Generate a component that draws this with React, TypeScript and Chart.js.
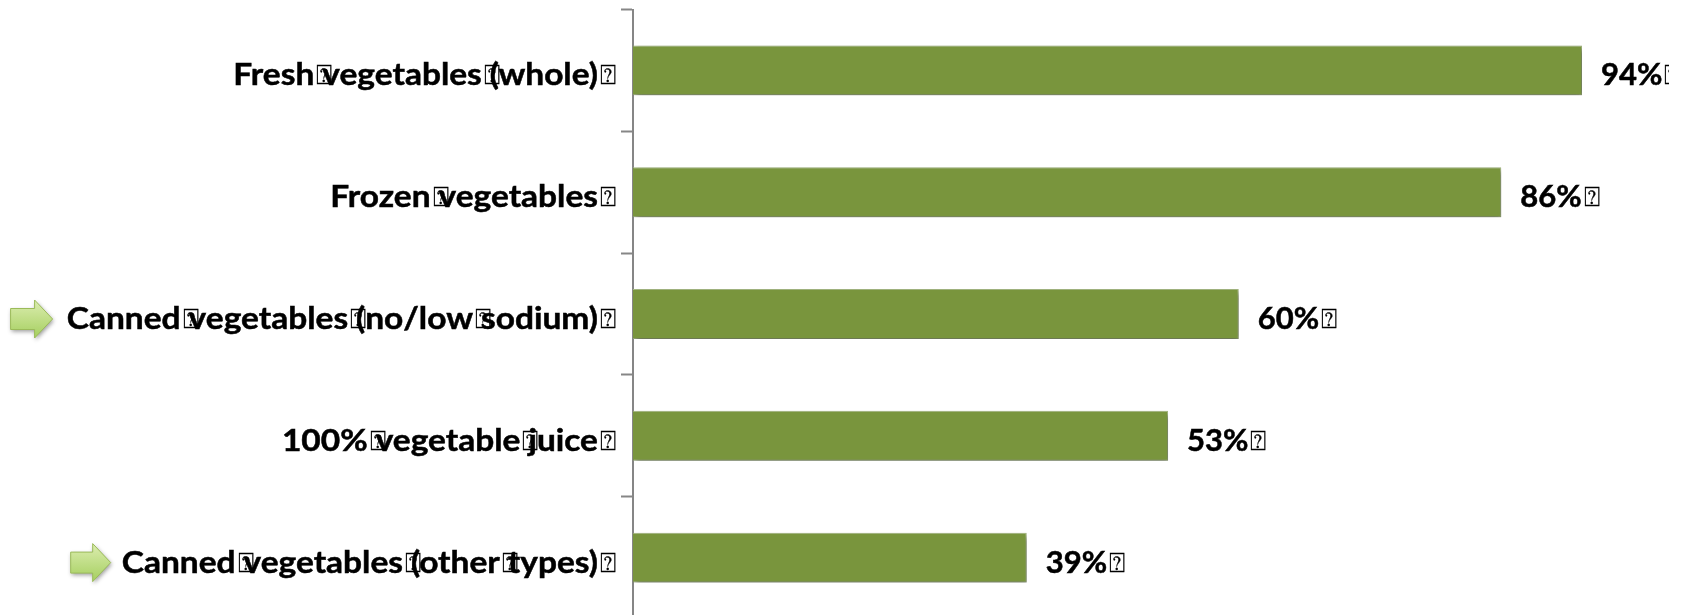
import React, { useEffect, useRef } from "react";
import { Chart, registerables } from "chart.js";

Chart.register(...registerables);

const categories = [
  "Fresh vegetables (whole) ",
  "Frozen vegetables ",
  "Canned vegetables (no/low sodium) ",
  "100% vegetable juice ",
  "Canned vegetables (other types) ",
];
const shares = [94, 86, 60, 53, 39];
const arrowRows = [2, 4];
const arrowTips = [52.6, 110.7];
const arrowLengths = [42, 40];

const FONT = "bold 31px Lato, 'Open Sans', sans-serif";
const BOX_FONT = "27px 'DejaVu Sans', sans-serif";
const BOX = "\u2370";
const BOX_ADVANCE = 8;

function measureWord(c: CanvasRenderingContext2D, word: string, stretch: number) {
  c.font = FONT;
  return c.measureText(word).width * stretch;
}

// Width of a label up to its trailing box; spaces print as narrow boxed question marks.
function measure(c: CanvasRenderingContext2D, text: string, stretch: number) {
  const parts = text.split(" ");
  let width = 0;
  parts.forEach((p, i) => {
    width += measureWord(c, p, stretch);
    if (i < parts.length - 2) width += BOX_ADVANCE;
  });
  return { parts, width };
}

function drawLabel(c: CanvasRenderingContext2D, text: string, x: number, baseline: number, stretch: number) {
  const { parts } = measure(c, text, stretch);
  let pen = x;
  c.textAlign = "left";
  c.textBaseline = "alphabetic";
  c.fillStyle = "#000";
  c.strokeStyle = "#000";
  parts.forEach((p, i) => {
    if (i < parts.length - 1) {
      // the box sits behind the start of the following word
      const end = pen + measureWord(c, p, stretch);
      c.font = BOX_FONT;
      c.lineWidth = 0.3;
      c.fillText(BOX, end + 2, baseline - 1);
      c.strokeText(BOX, end + 2, baseline - 1);
    }
    if (p) {
      c.save();
      c.font = FONT;
      c.lineWidth = 0.5;
      c.translate(pen, baseline);
      c.scale(stretch, 1);
      c.fillText(p, 0, 0);
      c.strokeText(p, 0, 0);
      c.restore();
      pen += measureWord(c, p, stretch);
    }
    pen += BOX_ADVANCE;
  });
}

const barShadow = {
  id: "barShadow",
  beforeDatasetDraw(chart: any) {
    const c = chart.ctx;
    c.shadowColor = "rgba(0,0,0,0.45)";
    c.shadowBlur = 6;
    c.shadowOffsetX = 2;
    c.shadowOffsetY = 3;
  },
  afterDatasetDraw(chart: any) {
    const c = chart.ctx;
    c.shadowColor = "transparent";
    c.shadowBlur = 0;
    c.shadowOffsetX = 0;
    c.shadowOffsetY = 0;
  },
};

const textLabels = {
  id: "textLabels",
  afterDraw(chart: any) {
    const c = chart.ctx;
    const y = chart.scales.y;
    const bars = chart.getDatasetMeta(0).data;
    c.save();
    c.beginPath();
    c.rect(0, 0, 1669, 630);
    c.clip();
    y.getLabels().forEach((label: string, i: number) => {
      const { width } = measure(c, label, 1.08);
      drawLabel(c, label, 598 - width, y.getPixelForValue(i) + 15, 1.08);
    });
    bars.forEach((bar: any, i: number) => {
      drawLabel(c, `${shares[i]}% `, bar.x + 19, bar.y + 15, 1);
    });
    c.restore();
  },
};

const arrows = {
  id: "arrows",
  afterDraw(chart: any) {
    const c = chart.ctx;
    const y = chart.scales.y;
    arrowRows.forEach((row, i) => {
      const cy = y.getPixelForValue(row) + 5;
      const tip = arrowTips[i];
      const tail = tip - arrowLengths[i];
      const neck = tip - 18;
      c.save();
      c.shadowColor = "rgba(0,0,0,0.4)";
      c.shadowBlur = 4;
      c.shadowOffsetX = 1;
      c.shadowOffsetY = 2;
      const g = c.createLinearGradient(0, cy - 19, 0, cy + 19);
      g.addColorStop(0, "#dcedb0");
      g.addColorStop(1, "#a5cf5f");
      c.fillStyle = g;
      c.strokeStyle = "#9bbb59";
      c.lineWidth = 1;
      c.beginPath();
      c.moveTo(tail, cy - 10.5);
      c.lineTo(neck, cy - 10.5);
      c.lineTo(neck, cy - 19);
      c.lineTo(tip, cy);
      c.lineTo(neck, cy + 19);
      c.lineTo(neck, cy + 10.5);
      c.lineTo(tail, cy + 10.5);
      c.closePath();
      c.fill();
      c.shadowColor = "transparent";
      c.stroke();
      c.restore();
    });
  },
};

export default function App() {
  const ref = useRef<HTMLCanvasElement>(null);
  useEffect(() => {
    document.body.style.margin = "0";
    document.body.style.background = "#fff";
    const chart = new Chart(ref.current!, {
      type: "bar",
      data: {
        labels: categories,
        datasets: [
          {
            data: shares,
            backgroundColor: "#79953d",
            borderColor: "#a9bd85",
            borderWidth: 1,
            borderSkipped: "left",
            barPercentage: 0.41,
            categoryPercentage: 1,
          },
        ],
      },
      options: {
        indexAxis: "y",
        animation: false,
        responsive: false,
        layout: { padding: { top: 9.5, bottom: 11.5, left: 0, right: 0 } },
        plugins: { legend: { display: false }, tooltip: { enabled: false } },
        scales: {
          x: { display: false, min: 0, max: 104.3 },
          y: {
            afterFit(scale: any) {
              scale.width = 633;
              scale.paddingTop = 0;
              scale.paddingBottom = 0;
            },
            border: { color: "#868686", width: 2 },
            grid: { drawOnChartArea: false, tickLength: 12, tickWidth: 2, tickColor: "#868686", offset: true },
            ticks: { display: false, autoSkip: false },
          },
        },
      },
      plugins: [barShadow, textLabels, arrows],
    } as any);
    return () => chart.destroy();
  }, []);
  return (
    <div style={{ width: 1686, height: 615, overflow: "hidden" }}>
      <canvas ref={ref} width={1686} height={630} style={{ display: "block" }} />
    </div>
  );
}
